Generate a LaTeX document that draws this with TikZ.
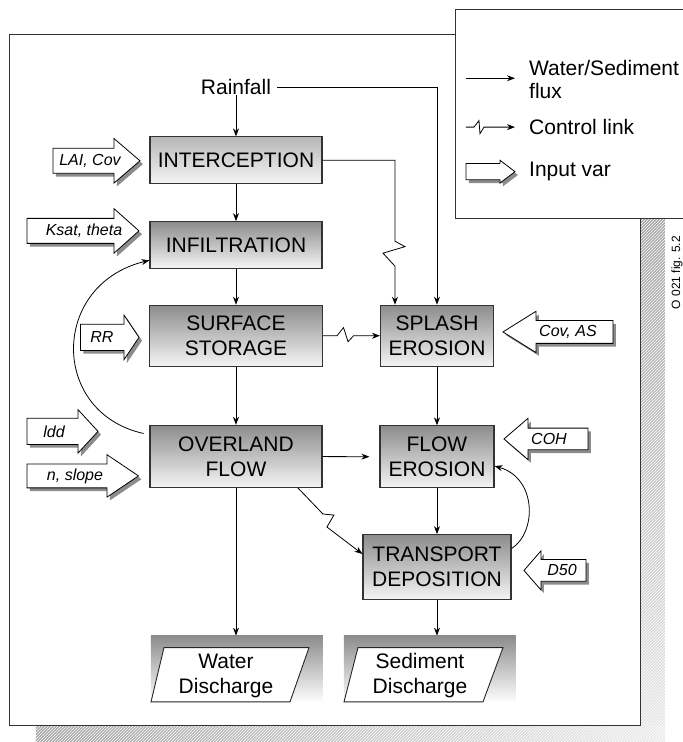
\documentclass[tikz,border=0pt]{standalone}
\usepackage{fontspec}
\setmainfont{Liberation Sans}
\usetikzlibrary{arrows.meta, patterns}

\newcommand\boxfont{\fontsize{21}{25}\selectfont}
\newcommand\legfont{\fontsize{21}{23}\selectfont}
\newcommand\varfont{\fontsize{16}{18}\selectfont\itshape}

\tikzset{
  procbox/.style={draw=black!80, line width=1.1pt, top color=black!45, bottom color=black!4,
    minimum height=46.7pt, inner sep=0pt, align=center, font=\boxfont},
  outbg/.style={top color=black!45, bottom color=white, minimum width=172pt, minimum height=67pt, inner sep=0pt},
  outline/.style={draw=black!85, line width=0.9pt, fill=white},
  flux/.style={line width=0.8pt, -{Stealth[length=8pt,width=6pt]}},
  ctrl/.style={flux, line join=miter},
}

\begin{document}
\begin{tikzpicture}[x=1pt, y=-1.0866pt]
  \useasboundingbox (0,0) rectangle (683,682.9);

  % Shadow of the frame
  \shade[left color=black!35, right color=black!8] (36,668) rectangle (665,684);
  \shade[top color=black!35, bottom color=black!10] (641,201) rectangle (665,668);
  \fill[pattern=north east lines, pattern color=white] (36,668) rectangle (665,684);
  \fill[pattern=north east lines, pattern color=white] (641,201) rectangle (665,668);

  % Frame and legend
  \draw[line width=1pt, draw=black!80] (10,32) rectangle (641,668);
  \draw[line width=1pt, draw=black!80, fill=white] (456,9) rectangle (690,201);

  \node[rotate=90, font=\fontsize{12}{14}\selectfont, inner sep=0pt] (figid) at (677,251) {O 021 fig. 5.2};

  % Legend
  \node[anchor=west, align=left, font=\legfont, inner sep=0pt] (lgflux) at (529,73) {Water/Sediment\\flux};
  \node[anchor=west, font=\legfont, inner sep=0pt] (lgctrl) at (529,117) {Control link};
  \node[anchor=west, font=\legfont, inner sep=0pt] (lgvar) at (529,158) {Input var};
  \coordinate (lgfluxstart) at (466,72);
  \coordinate (lgctrlstart) at (466,117);
  \draw[flux, shorten >=14pt] (lgfluxstart) -- (lgfluxstart -| lgflux.west);
  \draw[ctrl, shorten >=14pt] (lgctrlstart) -- ++(8,0) -- ++(5,-6) -- ++(1,12) -- ++(4,-6) -- (lgctrl.west);

  % Input variables (name/body end/head back/tip/y/body half/head half/text x/text)
  \foreach \nm/\lx/\hx/\tx/\yy/\bh/\hh/\cx/\txt in {
      lai/53/114/140/148/11.5/20.5/90/{LAI, Cov},
      ksat/27/114/139/212.5/11.5/20.5/84/{Ksat, theta},
      rr/80.5/124/139/310.5/12/20.5/102/RR,
      ldd/27/78/98/397/12/20/54/ldd,
      nslope/27/107/138.5/438/11/19.5/75/{n, slope},
      covas/613/536/503/305.5/10.5/19/568/{Cov, AS},
      coh/588/528/504/404/10/19/549/COH,
      dfifty/586/541/524/525/10/18/562/D50,
      lgarrow/466/500/515/158/7.5/10.5/483/{}} {
    \fill[black!45, shift={(3,3)}] (\lx,\yy-\bh) -- (\hx,\yy-\bh) -- (\hx,\yy-\hh) -- (\tx,\yy)
      -- (\hx,\yy+\hh) -- (\hx,\yy+\bh) -- (\lx,\yy+\bh) -- cycle;
    \draw[line width=0.8pt, fill=white] (\lx,\yy-\bh) -- (\hx,\yy-\bh) -- (\hx,\yy-\hh) -- (\tx,\yy)
      -- (\hx,\yy+\hh) -- (\hx,\yy+\bh) -- (\lx,\yy+\bh) -- cycle;
    \node[font=\varfont, inner sep=0pt] (in-\nm) at (\cx,\yy) {\txt};
  }

  % Processes
  \node[font=\boxfont, inner sep=0pt, inner xsep=6pt] (rain) at (236,80) {Rainfall};
  \node[procbox, top color=black!28, minimum width=172pt] (icp) at (236,147.5) {INTERCEPTION};
  \node[procbox, minimum width=172pt] (inf) at (236,225.5) {INFILTRATION};
  \node[procbox, minimum width=173pt, minimum height=61pt] (sst) at (236,309) {SURFACE\\STORAGE};
  \node[procbox, minimum width=172pt, minimum height=62pt] (ovl) at (236,420) {OVERLAND\\FLOW};
  \node[procbox, minimum width=113pt, minimum height=61pt] (spl) at (437,309) {SPLASH\\EROSION};
  \node[procbox, minimum width=114pt, minimum height=62pt] (fle) at (437,420.5) {FLOW\\EROSION};
  \node[procbox, minimum width=148pt, minimum height=65pt] (trn) at (437,522) {TRANSPORT\\DEPOSITION};

  % Outputs
  \node[outbg] (wdis) at (237,616) {};
  \draw[outline] (151,646) -- (164,596) -- (309,596) -- (290,646) -- cycle;
  \node[align=center, font=\boxfont, inner sep=0pt] (wdis-t) at (226,622) {Water\\Discharge};
  \node[outbg] (sdis) at (430,616) {};
  \draw[outline] (344,646) -- (358,596) -- (503,596) -- (483,646) -- cycle;
  \node[align=center, font=\boxfont, inner sep=0pt] (sdis-t) at (420,622) {Sediment\\Discharge};

  % Fluxes
  \draw[flux] (rain) -- (icp);
  \draw[flux] (rain.east) -| (spl.north);
  \draw[flux] (icp) -- (inf);
  \draw[flux] (inf) -- (sst);
  \draw[flux] (sst) -- (ovl);
  \draw[flux] (ovl.south) -- (ovl.south |- wdis.north);
  \draw[flux, shorten >=10pt] (ovl) -- (fle);
  \draw[flux] (spl) -- (fle);
  \draw[flux] (fle) -- (trn);
  \draw[flux] (trn.south) -- (trn.south |- sdis.north);
  \draw[flux, shorten <=6pt] (ovl.166) .. controls (50,380) and (50,262) .. (inf.190);
  \draw[flux] (trn.14) .. controls (537,490) and (537,440) .. (fle.351);

  % Control links
  \coordinate (icpbend) at (395,222);
  \draw[ctrl] (icp.east) -| (icpbend) -- ++(10,5) -- ++(-22,6) -- ++(12,12) -- (icpbend |- spl.north);
  \draw[ctrl] (sst.east) -- ++(14,0) -- ++(6.5,-7.5) -- ++(4.5,13) -- ++(5.5,-5.5) -- (spl.west);
  \draw[ctrl] (ovl.333) -- ++(25,24) -- ++(11,1) -- ++(-7,11) -- (trn.170);

\end{tikzpicture}
\end{document}
